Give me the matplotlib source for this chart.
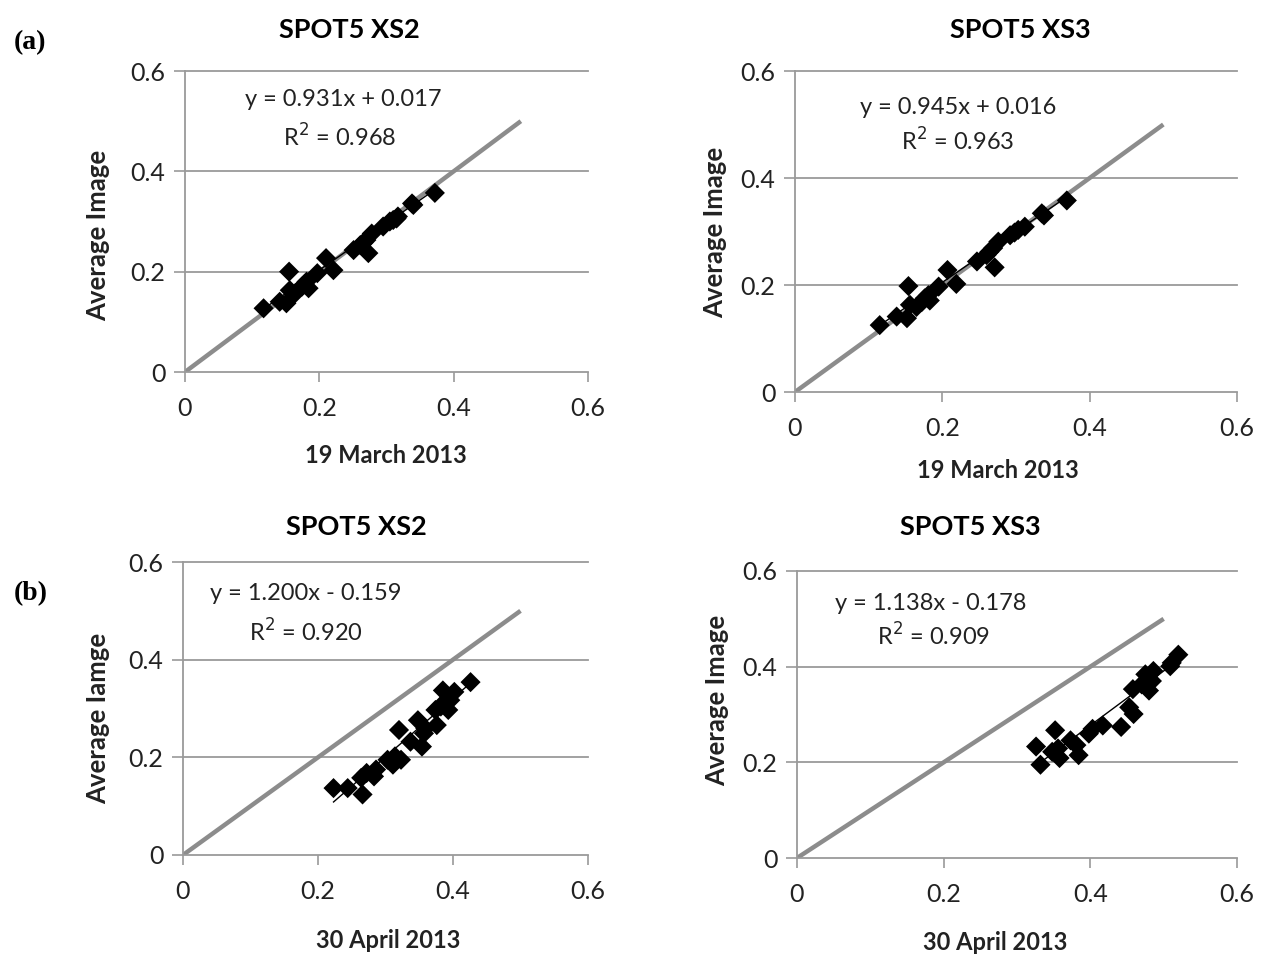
"""Four-panel SPOT5 scatter comparison: average image vs. single-date reflectance."""

import matplotlib
matplotlib.use("Agg")
import matplotlib.pyplot as plt  # noqa: E402
import numpy as np  # noqa: E402

plt.rcParams.update({"font.family": ["Lato", "DejaVu Sans"]})

W, H = 1263, 956
GRID = "#9a9a9a"

# --- (a) SPOT5 XS2, 19 March 2013 ---
xs2_mar_x = [0.117, 0.141, 0.151, 0.155, 0.156, 0.164, 0.174, 0.181, 0.184, 0.197, 0.210,
             0.221, 0.251, 0.261, 0.270, 0.273, 0.278, 0.295, 0.305, 0.315, 0.317, 0.338,
             0.340, 0.372, 0.178, 0.266, 0.310]
xs2_mar_y = [0.127, 0.140, 0.137, 0.200, 0.163, 0.157, 0.170, 0.180, 0.167, 0.197, 0.227,
             0.203, 0.243, 0.253, 0.263, 0.237, 0.276, 0.290, 0.300, 0.306, 0.310, 0.336,
             0.333, 0.357, 0.175, 0.258, 0.303]

# --- (c) SPOT5 XS3, 19 March 2013 ---
xs3_mar_x = [0.115, 0.138, 0.152, 0.154, 0.156, 0.165, 0.176, 0.181, 0.183, 0.195, 0.207,
             0.219, 0.247, 0.260, 0.269, 0.271, 0.276, 0.292, 0.303, 0.312, 0.335, 0.369,
             0.172, 0.264, 0.298, 0.338]
xs3_mar_y = [0.125, 0.141, 0.138, 0.198, 0.163, 0.159, 0.175, 0.181, 0.171, 0.197, 0.228,
             0.202, 0.244, 0.256, 0.269, 0.233, 0.281, 0.293, 0.303, 0.309, 0.334, 0.358,
             0.168, 0.262, 0.298, 0.330]

# --- (b) SPOT5 XS2, 30 April 2013 ---
xs2_apr_x = [0.223, 0.244, 0.266, 0.264, 0.272, 0.283, 0.286, 0.303, 0.311, 0.314, 0.323,
             0.320, 0.337, 0.348, 0.354, 0.357, 0.359, 0.374, 0.376, 0.382, 0.385, 0.388,
             0.393, 0.396, 0.402, 0.426]
xs2_apr_y = [0.137, 0.137, 0.124, 0.158, 0.168, 0.161, 0.175, 0.195, 0.185, 0.202, 0.195,
             0.256, 0.232, 0.276, 0.222, 0.249, 0.259, 0.297, 0.266, 0.304, 0.337, 0.314,
             0.297, 0.317, 0.334, 0.354]

# --- (d) SPOT5 XS3, 30 April 2013 ---
xs3_apr_x = [0.326, 0.332, 0.352, 0.348, 0.358, 0.356, 0.373, 0.384, 0.381, 0.398, 0.403,
             0.417, 0.442, 0.453, 0.459, 0.458, 0.470, 0.475, 0.480, 0.484, 0.486, 0.511,
             0.509, 0.520]
xs3_apr_y = [0.233, 0.195, 0.267, 0.222, 0.209, 0.229, 0.246, 0.215, 0.236, 0.260, 0.270,
             0.277, 0.274, 0.315, 0.301, 0.353, 0.363, 0.384, 0.350, 0.370, 0.391, 0.408,
             0.401, 0.425]

titles = ["SPOT5 XS2", "SPOT5 XS3", "SPOT5 XS2", "SPOT5 XS3"]
xlabels = ["19 March 2013", "19 March 2013", "30 April 2013", "30 April 2013"]
ylabels = ["Average Image", "Average Image", "Average Iamge", "Average Image"]
slopes = [0.931, 0.945, 1.200, 1.138]
intercepts = [0.017, 0.016, -0.159, -0.178]
r2 = [0.968, 0.963, 0.920, 0.909]
ticks = [0, 0.2, 0.4, 0.6]
tick_labels = ["0", "0.2", "0.4", "0.6"]

# pixel boxes: x0, x1, y_top(0.6), y_bottom(0)
BOXES = [(185, 588, 71, 372), (795, 1237, 71, 392), (183, 588, 562, 855), (797, 1237, 571, 858)]
TITLE_POS = [(349, 30), (1020, 30), (356, 527), (970, 527)]
XLAB_POS = [(386, 455), (998, 470), (388, 940), (995, 942)]
YLAB_POS = [(98, 235), (715, 232), (98, 718), (717, 700)]
EQ_POS = [(343, 100, 340, 137), (958, 108, 958, 141), (306, 593, 306, 632), (931, 603, 933, 636)]


def fx(px):
    return px / W


def fy(py):
    return 1 - py / H


def panel(fig, i, xs, ys):
    x0, x1, yt, yb = BOXES[i]
    ax = fig.add_axes([fx(x0), fy(yb), (x1 - x0) / W, (yb - yt) / H])
    ax.set_xlim(0, 0.6); ax.set_ylim(0, 0.6)
    ax.set_xticks(ticks); ax.set_xticklabels(tick_labels)
    ax.set_yticks(ticks); ax.set_yticklabels(tick_labels)
    ax.tick_params(axis="x", length=7, width=1.2, color=GRID, pad=11, labelsize=18, labelcolor="#222")
    ax.tick_params(axis="y", length=8, width=1.2, color=GRID, pad=6, labelsize=18, labelcolor="#222")
    for s in ("top", "right"):
        ax.spines[s].set_visible(False)
    for s in ("left", "bottom"):
        ax.spines[s].set_color(GRID); ax.spines[s].set_linewidth(1.3)
    for t in ticks[1:]:
        ax.axhline(t, color=GRID, lw=1.3, zorder=0, clip_on=False)
    ax.plot([0, 0.5], [0, 0.5], color="#8c8c8c", lw=3.2, solid_capstyle="butt", zorder=1)
    ax.scatter(xs, ys, marker="D", s=105, color="black", edgecolors="none", zorder=3)
    tx = np.array([min(xs), max(xs)])
    ax.plot(tx, slopes[i] * tx + intercepts[i], color="black", lw=1, zorder=2)

    sign = "+" if intercepts[i] >= 0 else "-"
    ex, ey, rx, ry = EQ_POS[i]
    fig.text(fx(ex), fy(ey), f"y = {slopes[i]:.3f}x {sign} {abs(intercepts[i]):.3f}",
             ha="center", va="center", fontsize=17, color="#222")
    fig.text(fx(rx), fy(ry), f"R$^2$ = {r2[i]:.3f}", ha="center", va="center", fontsize=17, color="#222")
    fig.text(fx(TITLE_POS[i][0]), fy(TITLE_POS[i][1]), titles[i], ha="center", va="center",
             fontsize=19.5, fontweight="bold")
    fig.text(fx(XLAB_POS[i][0]), fy(XLAB_POS[i][1]), xlabels[i], ha="center", va="center",
             fontsize=17, fontweight="bold", color="#222")
    fig.text(fx(YLAB_POS[i][0]), fy(YLAB_POS[i][1]), ylabels[i], ha="center", va="center",
             rotation=90, fontsize=18.5, fontweight="bold", color="#222")
    return ax


def main():
    fig = plt.figure(figsize=(W / 100, H / 100), dpi=100)
    data = [(xs2_mar_x, xs2_mar_y), (xs3_mar_x, xs3_mar_y), (xs2_apr_x, xs2_apr_y), (xs3_apr_x, xs3_apr_y)]
    for i, (xs, ys) in enumerate(data):
        panel(fig, i, xs, ys)
    for lab, py in (("(a)", 43), ("(b)", 594)):
        fig.text(fx(14), fy(py), lab, ha="left", va="center", fontsize=20, fontweight="bold",
                 family=["Liberation Serif", "DejaVu Serif"])
    fig.savefig("out.png", dpi=100)


if __name__ == "__main__":
    main()
